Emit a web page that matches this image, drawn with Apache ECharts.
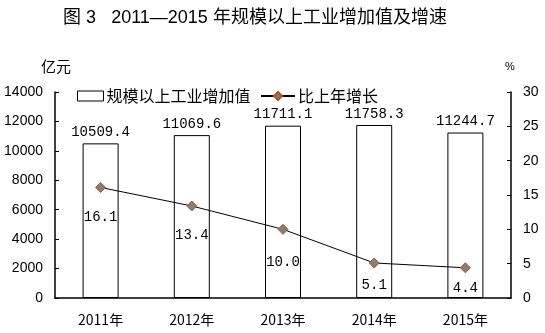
<!DOCTYPE html>
<html><head><meta charset="utf-8">
<script src="https://cdn.jsdelivr.net/npm/echarts@6/dist/echarts.min.js"></script>
<style>html,body{margin:0;padding:0;background:#fff}#c{width:545px;height:333px}</style>
</head><body><div id="c"></div>
<script>
const title = '图 3   2011—2015 年规模以上工业增加值及增速';
const categories = ['2011年','2012年','2013年','2014年','2015年'];
const barName = '规模以上工业增加值';
const lineName = '比上年增长';
const barValues = [10509.4, 11069.6, 11711.1, 11758.3, 11244.7];
const growthValues = [16.1, 13.4, 10.0, 5.1, 4.4];
const leftTicks = {min: 0, max: 14000, interval: 2000};
const rightTicks = {min: 0, max: 30, interval: 5};
const lineLabelDist = [17, 17, 20, 10, 8];

const cjk = '"SimSun","Noto Sans CJK SC",sans-serif';
const mono = '"Liberation Mono","DejaVu Sans Mono",monospace';
const legendText = {fontFamily: '"Noto Sans CJK SC"', fontSize: 16, color: '#000', padding: [0,0,0,-2]};
const chart = echarts.init(document.getElementById('c'));
chart.setOption({
  animation: false,
  backgroundColor: '#fff',
  title: {text: title, left: 250, top: 4, textAlign: 'center',
    textStyle: {fontFamily: '"Liberation Sans","Noto Sans CJK SC",sans-serif', fontSize: 18, fontWeight: 'normal', color: '#000'}},
  graphic: [
    {type: 'text', left: 41, top: 59, style: {text: '亿元', font: '15px "Noto Sans CJK SC"', fill: '#000'}},
    {type: 'text', left: 505, top: 61, style: {text: '%', font: '11px "Liberation Sans"', fill: '#000'}}
  ],
  legend: [
    {top: 83, left: 72, itemWidth: 26, itemHeight: 10, textStyle: legendText,
      data: [{name: barName, icon: 'rect', itemStyle: {color: '#fff', borderColor: '#000', borderWidth: 1}}]},
    {top: 83, left: 255, itemWidth: 34, itemHeight: 10, textStyle: legendText,
      data: [{name: lineName}]}
  ],
  grid: {left: 55, right: 34, top: 92, bottom: 35},
  xAxis: {
    type: 'category', data: categories, boundaryGap: true,
    axisLine: {lineStyle: {color: '#000', width: 1.5}},
    axisTick: {inside: true, length: 4, lineStyle: {color: '#000'}},
    axisLabel: {color: '#000', fontFamily: cjk, fontSize: 14, margin: 15}
  },
  yAxis: [
    {type: 'value', min: leftTicks.min, max: leftTicks.max, interval: leftTicks.interval,
      axisLine: {show: true, lineStyle: {color: '#000', width: 1.5}},
      axisTick: {show: true, inside: true, length: 4, lineStyle: {color: '#000'}},
      splitLine: {show: false},
      axisLabel: {color: '#000', fontFamily: '"Liberation Sans",sans-serif', fontSize: 14, margin: 12,
        formatter: v => String(v)}},
    {type: 'value', min: rightTicks.min, max: rightTicks.max, interval: rightTicks.interval,
      axisLine: {show: true, lineStyle: {color: '#000', width: 1.5}},
      axisTick: {show: true, inside: true, length: 4, lineStyle: {color: '#000'}},
      splitLine: {show: false},
      axisLabel: {color: '#000', fontFamily: '"Liberation Sans",sans-serif', fontSize: 14, margin: 12,
        formatter: v => String(v)}}
  ],
  series: [
    {name: barName, type: 'bar', yAxisIndex: 0, barWidth: 36, data: barValues,
      itemStyle: {color: '#fff', borderColor: '#000', borderWidth: 1},
      label: {show: true, position: 'top', distance: 4, color: '#000', fontFamily: mono, fontSize: 14,
        formatter: p => p.value.toFixed(1)}},
    {name: lineName, type: 'line', yAxisIndex: 1,
      data: growthValues.map((v, i) => ({value: v, label: {distance: lineLabelDist[i]}})),
      symbol: 'diamond', symbolSize: 10,
      lineStyle: {color: '#000', width: 1},
      itemStyle: {color: '#808080', borderColor: '#b5501e', borderWidth: 1},
      label: {show: true, position: 'bottom', color: '#000', fontFamily: mono, fontSize: 14,
        formatter: p => p.value.toFixed(1)}}
  ]
});
</script></body></html>
